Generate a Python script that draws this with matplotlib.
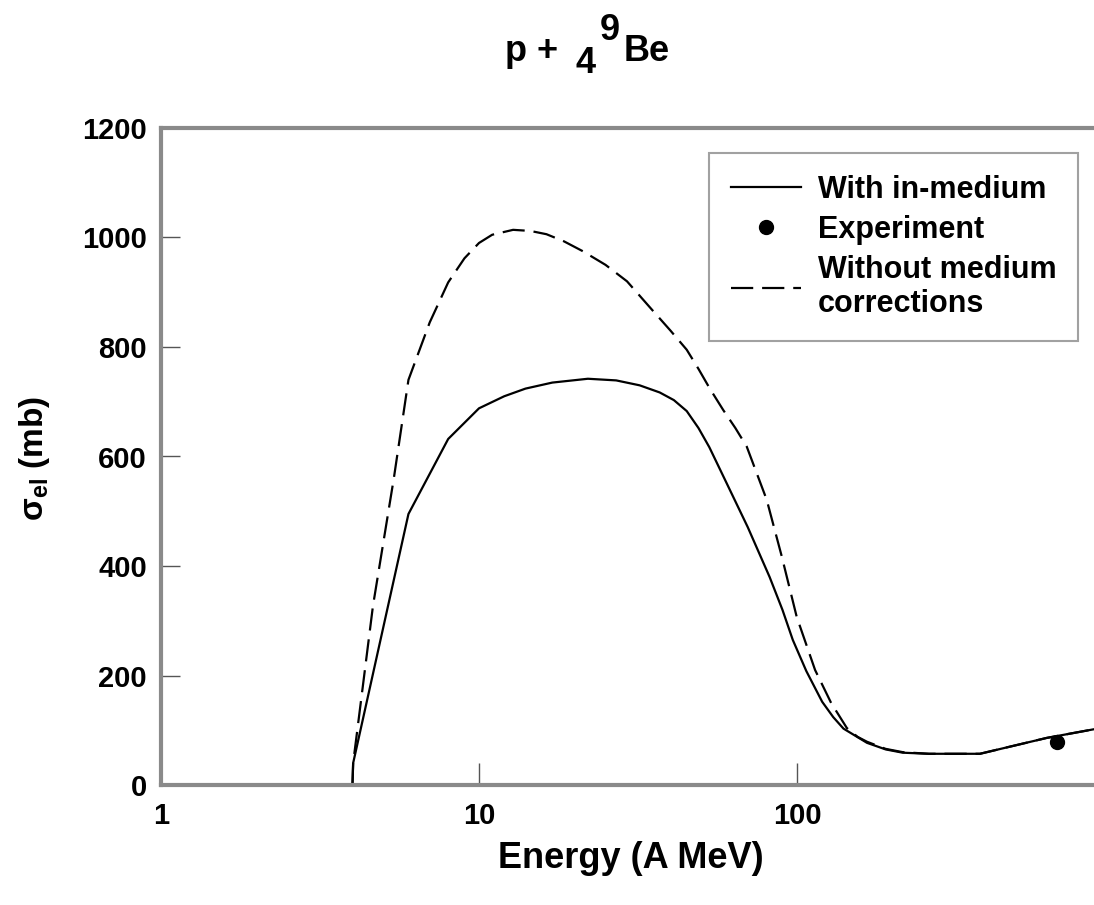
import matplotlib
matplotlib.use("Agg")
import matplotlib.pyplot as plt

plt.rcParams['font.family'] = ['Liberation Sans', 'DejaVu Sans']
plt.rcParams['mathtext.fontset'] = 'custom'
plt.rcParams['mathtext.rm'] = 'Liberation Sans'
plt.rcParams['mathtext.bf'] = 'Liberation Sans:bold'
plt.rcParams['mathtext.it'] = 'Liberation Sans:italic'

# ---- data ----
energy_with = [4, 4.02, 6, 8, 10, 12, 14, 17, 22, 27, 32, 37, 41, 45, 49, 53, 60, 70, 82,
               90, 97, 107, 120, 130, 140, 166, 190, 215, 260, 376, 610, 900]
sigma_with = [0, 40, 495, 632, 688, 710, 724, 735, 742, 739, 730, 717, 703, 683, 652, 617,
              552, 471, 380, 320, 265, 208, 152, 124, 103, 77, 65, 59, 57, 57, 86, 104]

energy_without = [4, 4.02, 4.64, 5.4, 6, 7, 8, 9, 10, 11, 12.8, 14.5, 16.3, 18.5, 21.2, 25,
                  29.2, 35, 40, 45, 49, 53.2, 58.6, 64, 69.5, 80.3, 89.6, 99.8, 114, 128,
                  143.5, 155, 166, 190, 215, 260, 376, 610, 900]
sigma_without = [0, 40, 327, 561, 740, 845, 918, 962, 990, 1005, 1014, 1012, 1006, 993, 975,
                 950, 920, 868, 830, 795, 760, 724, 685, 652, 618, 521, 417, 307, 210, 150,
                 104, 88, 79, 66, 60, 57, 57, 86, 104]

energy_exp = [655]
sigma_exp = [79]

yticks = [0, 200, 400, 600, 800, 1000, 1200]
xticks = [1, 10, 100]
xticklabels = ['1', '10', '100']

W, H = 1094, 905
fig = plt.figure(figsize=(W / 100, H / 100), dpi=100)
left, right, bottom, top = 161, 1115, 785, 128
ax = fig.add_axes([left / W, (H - bottom) / H, (right - left) / W, (bottom - top) / H])

ax.plot(energy_with, sigma_with, color='black', lw=1.6, label='With in-medium')
ax.plot(energy_exp, sigma_exp, 'o', color='black', ms=10, label='Experiment')
ax.plot(energy_without, sigma_without, color='black', lw=1.6, dashes=(10, 4),
        label='Without medium\ncorrections')

ax.set_xscale('log')
ax.set_xlim(1, 1000)
ax.set_ylim(0, 1200)
ax.set_yticks(yticks)
ax.set_xticks(xticks)
ax.set_xticklabels(xticklabels)
ax.xaxis.set_minor_locator(matplotlib.ticker.NullLocator())

for s in ['left', 'bottom', 'top', 'right']:
    ax.spines[s].set_color('#8a8a8a')
    ax.spines[s].set_linewidth(3)

ax.tick_params(axis='y', direction='in', length=14, width=1, color='#555555',
               labelsize=21, pad=10)
ax.tick_params(axis='x', direction='in', length=16, width=1, color='#555555',
               labelsize=21, pad=12)
for lab in ax.get_xticklabels() + ax.get_yticklabels():
    lab.set_fontweight('bold')

leg = ax.legend(loc='upper left', bbox_to_anchor=(0.574, 0.962),
                frameon=True, fancybox=False, shadow=False, borderaxespad=0,
                handlelength=2.3, handletextpad=0.55, borderpad=0.72,
                labelspacing=0.32, prop={'weight': 'bold', 'size': 22})
leg.get_frame().set_edgecolor('#8a8a8a')
leg.get_frame().set_linewidth(1.5)

# title "p + 4 9Be" with subscript/superscript at full size, staggered
tkw = dict(fontsize=26, fontweight='bold', va='baseline', ha='left')
fig.text(505 / W, 1 - 61 / H, 'p +', **tkw)
fig.text(576 / W, 1 - 73 / H, '4', **tkw)
fig.text(600 / W, 1 - 40 / H, '9', **tkw)
fig.text(624 / W, 1 - 61 / H, 'Be', **tkw)

fig.text(631 / W, 1 - 858 / H, 'Energy (A MeV)', ha='center', va='center',
         fontsize=26, fontweight='bold')
fig.text(35 / W, 1 - 458 / H, r'σ$_{\mathbf{el}}$ (mb)', ha='center', va='center',
         rotation=90, fontsize=24, fontweight='bold')

fig.savefig('out.png', dpi=100)
